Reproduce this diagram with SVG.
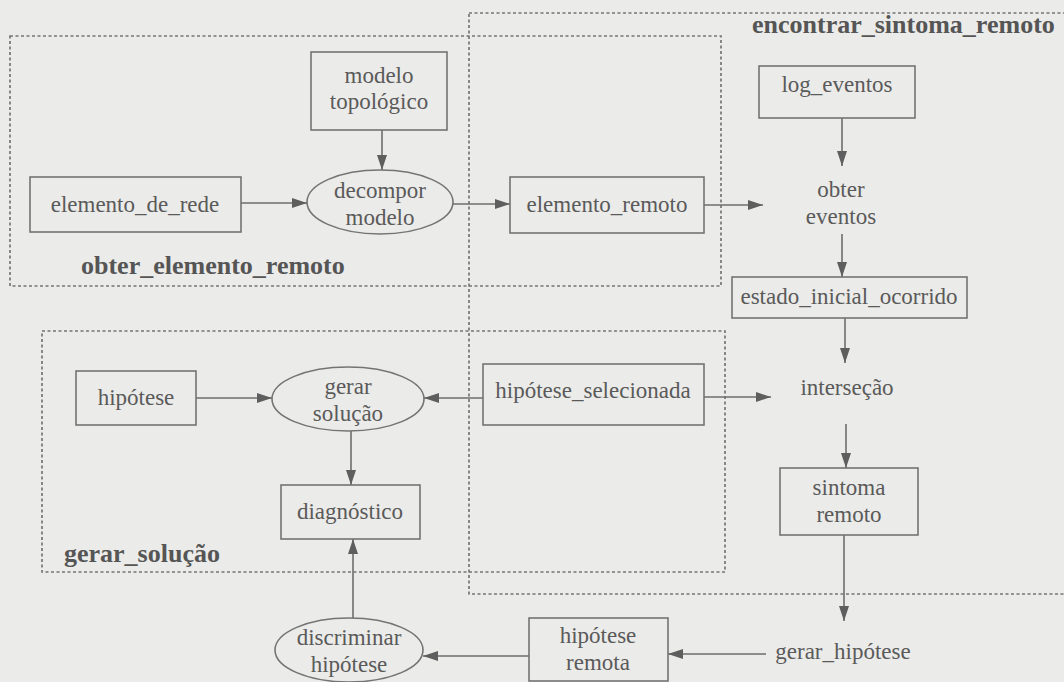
<svg xmlns="http://www.w3.org/2000/svg" width="1064" height="682" viewBox="0 0 1064 682">
<defs>
<marker id="arr" markerUnits="userSpaceOnUse" markerWidth="16" markerHeight="12" refX="15" refY="6" orient="auto">
<path d="M0,1 L15,6 L0,11 Z" fill="#5e5e5e"/>
</marker>
<style>
.bg{fill:#ebebe9}
.grp{fill:none;stroke:#767676;stroke-width:1.7;stroke-dasharray:3 2.5}
.box{fill:none;stroke:#747474;stroke-width:1.6}
.t{font-family:"Liberation Serif","Times New Roman",serif;font-size:23px;fill:#5a5a5a;text-anchor:middle}
.b{font-family:"Liberation Serif","Times New Roman",serif;font-size:26px;font-weight:bold;fill:#555}
.c{fill:none;stroke:#6e6e6e;stroke-width:1.6;marker-end:url(#arr)}
</style>
</defs>
<rect class="bg" x="0" y="0" width="1064" height="682"/>

<g id="groups">
<rect id="g_obter" class="grp" x="10" y="36" width="711" height="250"/>
<rect id="g_encontrar" class="grp" x="469" y="13" width="620" height="581"/>
<rect id="g_gerar" class="grp" x="42" y="331" width="683" height="241"/>
<text class="b" x="81" y="274">obter_elemento_remoto</text>
<text class="b" x="752" y="33">encontrar_sintoma_remoto</text>
<text class="b" x="64" y="562">gerar_solução</text>
</g>

<g id="connectors">
<line class="c" x1="382" y1="130" x2="382" y2="170"/>
<line class="c" x1="241" y1="203" x2="307" y2="203"/>
<line class="c" x1="453" y1="204" x2="510" y2="204"/>
<line class="c" x1="704" y1="205" x2="763" y2="205"/>
<line class="c" x1="842" y1="118" x2="842" y2="166"/>
<line class="c" x1="842" y1="234" x2="842" y2="277"/>
<line class="c" x1="845" y1="318" x2="845" y2="363"/>
<line class="c" x1="846" y1="424" x2="846" y2="468"/>
<line class="c" x1="844" y1="535" x2="844" y2="621"/>
<line class="c" x1="766" y1="654" x2="668" y2="654"/>
<line class="c" x1="529" y1="656" x2="423" y2="656"/>
<line class="c" x1="353" y1="618" x2="353" y2="539"/>
<line class="c" x1="351" y1="431" x2="351" y2="485"/>
<line class="c" x1="196" y1="398" x2="272" y2="398"/>
<line class="c" x1="483" y1="398" x2="424" y2="398"/>
<line class="c" x1="704" y1="397" x2="771" y2="397"/>
</g>

<g id="modelo_topologico">
<rect class="box" x="311" y="52" width="136" height="78"/>
<text class="t" x="379" y="83">modelo</text>
<text class="t" x="379" y="109">topológico</text>
</g>
<g id="elemento_de_rede">
<rect class="box" x="30" y="177" width="211" height="55"/>
<text class="t" x="135" y="212">elemento_de_rede</text>
</g>
<g id="decompor_modelo">
<ellipse class="box" cx="380" cy="202" rx="73" ry="32"/>
<text class="t" x="380" y="198">decompor</text>
<text class="t" x="380" y="225">modelo</text>
</g>
<g id="elemento_remoto">
<rect class="box" x="510" y="177" width="194" height="56"/>
<text class="t" x="607" y="212">elemento_remoto</text>
</g>
<g id="log_eventos">
<rect class="box" x="759" y="66" width="156" height="52"/>
<text class="t" x="837" y="92">log_eventos</text>
</g>
<g id="obter_eventos">
<text class="t" x="841" y="197">obter</text>
<text class="t" x="841" y="224">eventos</text>
</g>
<g id="estado_inicial_ocorrido">
<rect class="box" x="732" y="277" width="235" height="41"/>
<text class="t" x="849" y="304">estado_inicial_ocorrido</text>
</g>
<g id="intersecao">
<text class="t" x="847" y="395">interseção</text>
</g>
<g id="sintoma_remoto">
<rect class="box" x="780" y="468" width="138" height="67"/>
<text class="t" x="849" y="495">sintoma</text>
<text class="t" x="849" y="522">remoto</text>
</g>
<g id="gerar_hipotese">
<text class="t" x="843" y="659">gerar_hipótese</text>
</g>
<g id="hipotese_remota">
<rect class="box" x="529" y="618" width="139" height="63"/>
<text class="t" x="598" y="643">hipótese</text>
<text class="t" x="598" y="670">remota</text>
</g>
<g id="discriminar_hipotese">
<ellipse class="box" cx="349" cy="650" rx="74" ry="32"/>
<text class="t" x="349" y="645">discriminar</text>
<text class="t" x="349" y="672">hipótese</text>
</g>
<g id="diagnostico">
<rect class="box" x="281" y="485" width="139" height="54"/>
<text class="t" x="350" y="519">diagnóstico</text>
</g>
<g id="gerar_solucao">
<ellipse class="box" cx="348" cy="399" rx="76" ry="32"/>
<text class="t" x="348" y="394">gerar</text>
<text class="t" x="348" y="421">solução</text>
</g>
<g id="hipotese">
<rect class="box" x="76" y="371" width="120" height="54"/>
<text class="t" x="136" y="405">hipótese</text>
</g>
<g id="hipotese_selecionada">
<rect class="box" x="483" y="364" width="221" height="61"/>
<text class="t" x="593" y="398">hipótese_selecionada</text>
</g>
</svg>
